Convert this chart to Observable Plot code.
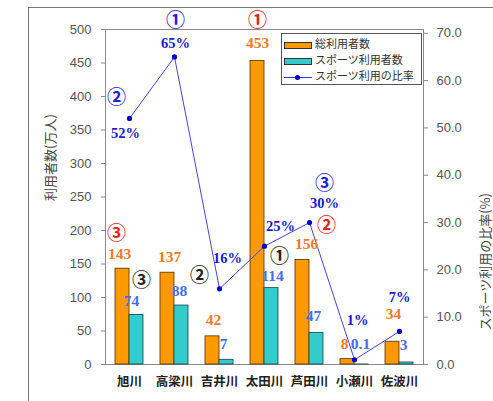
<!DOCTYPE html>
<html><head><meta charset="utf-8">
<script src="https://cdn.jsdelivr.net/npm/d3@7"></script>
<script src="https://cdn.jsdelivr.net/npm/@observablehq/plot@0.6"></script>
<style>
body{margin:0;background:#fff;}
#wrap{position:relative;width:493px;height:401px;overflow:hidden;}
#outer{position:absolute;left:28px;top:7px;width:470px;height:400px;border-left:1.5px solid #777;border-top:1.5px solid #777;}
#chart{position:absolute;left:0;top:0;}
#legend{position:absolute;left:281px;top:33px;width:139px;height:50px;border:1px solid #555;background:#fff;font-family:"Noto Sans CJK JP",sans-serif;font-size:11px;color:#333;}
.row{position:absolute;left:2px;height:16px;line-height:16px;white-space:nowrap;}
.sw{display:inline-block;width:26px;height:5px;vertical-align:middle;margin-right:3px;border:1px solid #333;}
.ln{display:inline-block;width:28px;height:8px;vertical-align:middle;margin-right:3px;position:relative;}
.ln:before{content:"";position:absolute;left:0;right:0;top:3.5px;border-top:1px solid #3333ff;}
.ln:after{content:"";position:absolute;left:11px;top:1.5px;width:5px;height:5px;border-radius:50%;background:#0000cc;}
</style></head><body>
<div id="wrap"><div id="outer"></div><div id="chart"></div>
<div id="legend">
<div class="row" style="top:1px"><span class="sw" style="background:#ff9900"></span>総利用者数</div>
<div class="row" style="top:17px"><span class="sw" style="background:#33cccc"></span>スポーツ利用者数</div>
<div class="row" style="top:33px"><span class="ln"></span>スポーツ利用の比率</div>
</div></div>
<script>
// ---- data ----
const rivers = ["旭川","高梁川","吉井川","太田川","芦田川","小瀬川","佐波川"];
const totalUsers = [143,137,42,453,156,8,34];
const sportsUsers = [74,88,7,114,47,0.1,3];
const sportsRatio = [52,65,16,25,30,1,7];
const totalLabels = ["143","137","42","453","156","8","34"];
const sportsLabels = ["74","88","7","114","47","0.1","3"];
const ratioLabels = ["52%","65%","16%","25%","30%","1%","7%"];
const leftTicks = [0,50,100,150,200,250,300,350,400,450,500];
const rightTicks = [0,10,20,30,40,50,60,70];
// rankings: [river, glyph]
const totalRanks = [["太田川","①"],["芦田川","②"],["旭川","③"]];
const sportsRanks = [["太田川","①"],["高梁川","②"],["旭川","③"]];
const ratioRanks = [["高梁川","①"],["旭川","②"],["芦田川","③"]];

// ---- layout (label offsets in px) ----
const totalOff = [[-10,-15],[-5,-16],[-6,-16],[-7,-18],[-3,-16],[-10,-15],[-6,-28]];
const sportsOff = [[2,-14],[5,-15],[4,-16],[8,-12],[4,-17],[6,-20],[4,-17]];
const ratioOff = [[-4,15],[1,-14],[8,-30],[16,-20],[15,-19],[3,-39],[0,-34]];
const totalRankOff = {"太田川":[-7,-40],"芦田川":[17,-34],"旭川":[-13,-35]};
const sportsRankOff = {"太田川":[15,-31],"高梁川":[25,-30],"旭川":[12,-34]};
const ratioRankOff = {"高梁川":[1,-36],"旭川":[-13,-21],"芦田川":[15,-39]};

const k = 500/70.8; // right axis (ratio %) mapped onto left axis units
const rows = rivers.map((r,i)=>({river:r,total:totalUsers[i],sports:sportsUsers[i],ratio:sportsRatio[i],ry:sportsRatio[i]*k,
  tl:totalLabels[i],sl:sportsLabels[i],rl:ratioLabels[i]}));
const byRiver = Object.fromEntries(rows.map(d=>[d.river,d]));

const numFont = "Liberation Serif, DejaVu Serif, serif";
const cjk = "Noto Sans CJK JP, sans-serif";
const marks = [
  Plot.frame({stroke:"#8a8a8a"}),
  Plot.barY(rows,{x:"river",y:"total",fill:"#ff9900",stroke:"#4a3000",strokeWidth:0.8,insetRight:14}),
  Plot.barY(rows,{x:"river",y:"sports",fill:"#33cccc",stroke:"#1a4040",strokeWidth:0.8,insetLeft:14}),
  Plot.line(rows,{x:"river",y:"ry",stroke:"#4444ee",strokeWidth:1}),
  Plot.dot(rows,{x:"river",y:"ry",r:2.6,fill:"#0000cc"}),
  Plot.axisY({anchor:"left",ticks:leftTicks,tickSize:4,tickPadding:10,fontSize:13,fill:"#555",stroke:"#888",fontFamily:"Liberation Sans, Arial, sans-serif",label:null}),
  Plot.axisY({anchor:"right",ticks:rightTicks.map(v=>v*k),tickFormat:d=>(d/k).toFixed(1),tickSize:4,tickPadding:9,fontSize:13,fill:"#555",stroke:"#888",fontFamily:"Liberation Sans, Arial, sans-serif",label:null}),
  Plot.axisX({tickSize:0,tickPadding:13,fontSize:12.5,fontWeight:"bold",fill:"#222",fontFamily:cjk,label:null}),
  Plot.text(["利用者数(万人)"],{text:d=>d,frameAnchor:"left",rotate:-90,dx:-55,dy:4,fontSize:13,fill:"#444",fontFamily:cjk}),
  Plot.text(["スポーツ利用の比率(%)"],{text:d=>d,frameAnchor:"right",rotate:-90,dx:62,dy:-4,fontSize:13,fill:"#444",fontFamily:cjk}),
];
rows.forEach((d,i)=>{
  marks.push(Plot.text([d],{x:"river",y:"total",text:"tl",dx:totalOff[i][0],dy:totalOff[i][1],fontSize:15.5,fontWeight:"bold",fill:"#f07a2a",fontFamily:numFont}));
  marks.push(Plot.text([d],{x:"river",y:"sports",text:"sl",dx:sportsOff[i][0],dy:sportsOff[i][1],fontSize:15.5,fontWeight:"bold",fill:"#3f6ff0",fontFamily:numFont}));
  marks.push(Plot.text([d],{x:"river",y:"ry",text:"rl",dx:ratioOff[i][0],dy:ratioOff[i][1],fontSize:14.5,fontWeight:"bold",fill:"#1a1acc",fontFamily:numFont}));
});
const rankStyle = {fontSize:19,fontWeight:"bold",fontFamily:cjk};
totalRanks.forEach(([r,g])=>marks.push(Plot.text([byRiver[r]],{x:"river",y:"total",text:()=>g,dx:totalRankOff[r][0],dy:totalRankOff[r][1],fill:"#e82020",...rankStyle})));
sportsRanks.forEach(([r,g])=>marks.push(Plot.text([byRiver[r]],{x:"river",y:"sports",text:()=>g,dx:sportsRankOff[r][0],dy:sportsRankOff[r][1],fill:"#222",...rankStyle})));
ratioRanks.forEach(([r,g])=>marks.push(Plot.text([byRiver[r]],{x:"river",y:"ry",text:()=>g,dx:ratioRankOff[r][0],dy:ratioRankOff[r][1],fill:"#2020dd",...rankStyle})));

const chart = Plot.plot({
  width:493,height:401,
  marginLeft:105,marginRight:70,marginTop:29,marginBottom:37,
  style:{background:"transparent",overflow:"visible"},
  x:{domain:rivers,paddingInner:0.383,paddingOuter:0.19},
  y:{domain:[0,500]},
  marks
});
document.getElementById("chart").appendChild(chart);
</script>
</body></html>
